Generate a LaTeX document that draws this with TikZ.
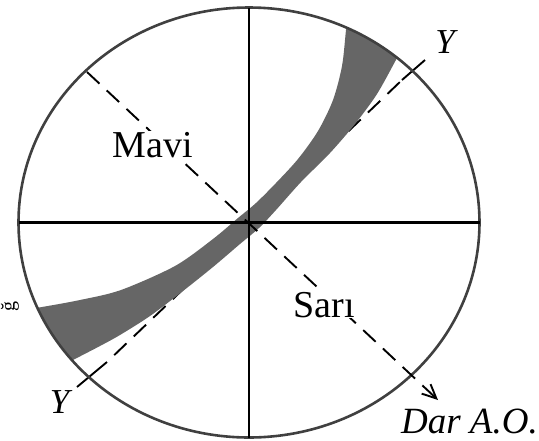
\documentclass[tikz,border=0pt]{standalone}
\usepackage{fontspec}
\setmainfont{Liberation Serif}
\usetikzlibrary{shapes.geometric,arrows.meta}
\begin{document}
\begin{tikzpicture}[x=1pt,y=-1pt,
  rim/.style={draw=black!75, line width=2.6pt},
  axisln/.style={line width=2.6pt, draw=black},
  dashln/.style={line width=1.9pt, draw=black, dash pattern=on 17pt off 10pt},
  solidln/.style={line width=1.9pt, draw=black},
  lbl/.style={font=\fontsize{38}{38}\selectfont, fill=white, inner sep=1pt},
  ylbl/.style={font=\fontsize{35}{35}\selectfont\itshape, inner sep=0pt},
  bandfill/.style={fill=black!60}]
\useasboundingbox (0,0) rectangle (539,440);
\coordinate (C) at (249,222.5);
% Y--Y line (under the band)
\coordinate (Ya) at (77,387);
\coordinate (Ya2) at (107,362);
\coordinate (Yb2) at (402,80);
\coordinate (Yb) at (425,60);
\draw[solidln] (Ya) -- (Ya2);
\draw[dashln, dash phase=17pt] (Ya2) -- (Yb2);
\draw[solidln] (Yb2) -- (Yb);
% shaded band
\begin{scope}
\clip (C) ellipse [x radius=230.5pt, y radius=215pt];
\fill[bandfill] plot[smooth] coordinates {(350,-5) (346,30) (342,66) (333,100) (318,131) (298,159) (276,183) (256,203) (238,218) (213,239) (175,266) (121,290) (80,300) (42,307) (5,313)}
  -- (0,390) --
  plot[smooth] coordinates {(50,372) (73,360) (100,346) (120,335) (150,316) (183,291) (213,267) (240,244) (259,228) (276,210) (301,182) (330,153) (355,124) (377,94) (397,58) (415,25)}
  -- cycle;
\end{scope}
% circle and axes
\node[ellipse, rim, minimum width=461pt, minimum height=430pt, inner sep=0pt, outer sep=0pt] (E) at (C) {};
\draw[axisln] (E.west) -- (E.east);
\draw[axisln] (E.north) -- (E.south);
% Mavi -- Sari dashed arrow
\coordinate (M1) at (87,72);
\coordinate (T) at (438,400);
\draw[dashln, -{Straight Barb[length=14pt,width=13pt,line width=1.9pt]}] (M1) -- (T);
% labels
\node[lbl, anchor=base] (mavi) at (153,157) {Mavi};
\node[lbl, anchor=base] (sari) at (324,317) {Sarı};
\node[ylbl, anchor=base] (y1) at (445,53) {Y};
\node[ylbl, anchor=base] (y2) at (59.5,413) {Y};
\node[ylbl, anchor=base east, font=\fontsize{37}{37}\selectfont\itshape] (dar) at (538,433) {Dar A.O.};
\node[rotate=90, inner sep=0pt, font=\fontsize{20}{20}\selectfont] (frag) at (10,306) {ğ};
\end{tikzpicture}
\end{document}
